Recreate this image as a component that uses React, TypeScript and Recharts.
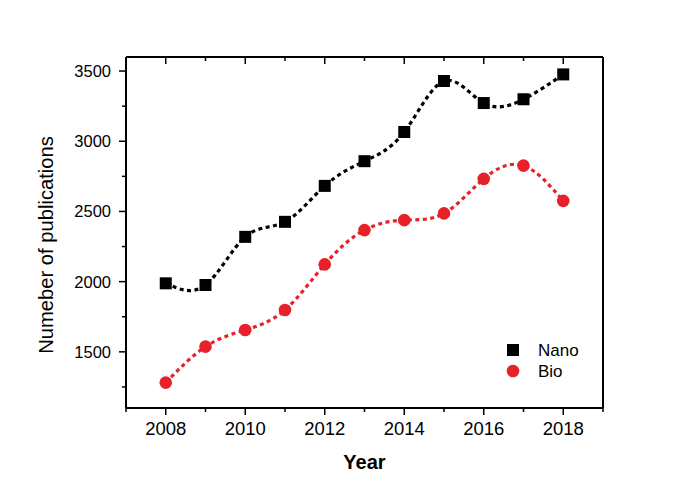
import React from 'react';
import { ComposedChart, Line, XAxis, YAxis, Legend } from 'recharts';

const years = [2008, 2009, 2010, 2011, 2012, 2013, 2014, 2015, 2016, 2017, 2018];
const nano = [1988, 1976, 2319, 2426, 2682, 2858, 3066, 3429, 3272, 3299, 3476];
const bio = [1281, 1537, 1656, 1798, 2123, 2367, 2438, 2486, 2732, 2826, 2575];
const xTicks = [2007, 2008, 2009, 2010, 2011, 2012, 2013, 2014, 2015, 2016, 2017, 2018, 2019];
const xLabelTicks = [2008, 2010, 2012, 2014, 2016, 2018];
const yTicks = [1250, 1500, 1750, 2000, 2250, 2500, 2750, 3000, 3250, 3500];
const yLabelTicks = [1500, 2000, 2500, 3000, 3500];

const data = years.map((y, i) => ({ year: y, nano: nano[i], bio: bio[i] }));

const FONT = '"Liberation Sans", Arial, sans-serif';
const RED = '#e62129';

const BottomTick = (props: any) => {
  const { x, y, payload } = props;
  const major = xLabelTicks.includes(payload.value);
  return (
    <g>
      <line x1={x} x2={x} y1={y} y2={y + (major ? 7 : 4)} stroke="#000" strokeWidth={1.5} />
      {major && (
        <text x={x} y={y + 27} textAnchor="middle" fontFamily={FONT} fontSize={18.5} fill="#000">
          {payload.value}
        </text>
      )}
    </g>
  );
};

const TopTick = (props: any) => {
  const { x, y, payload } = props;
  const major = xLabelTicks.includes(payload.value);
  return <line x1={x} x2={x} y1={y} y2={y + (major ? 7 : 4)} stroke="#000" strokeWidth={1.5} />;
};

const LeftTick = (props: any) => {
  const { x, y, payload } = props;
  const major = yLabelTicks.includes(payload.value);
  return (
    <g>
      <line x1={x} x2={x - (major ? 7 : 4)} y1={y} y2={y} stroke="#000" strokeWidth={1.5} />
      {major && (
        <text x={x - 15} y={y + 6} textAnchor="end" fontFamily={FONT} fontSize={16.5} fill="#000">
          {payload.value}
        </text>
      )}
    </g>
  );
};

const RightTick = (props: any) => {
  const { x, y, payload } = props;
  const major = yLabelTicks.includes(payload.value);
  return <line x1={x} x2={x - (major ? 7 : 4)} y1={y} y2={y} stroke="#000" strokeWidth={1.5} />;
};

const SquareDot = (props: any) => {
  const { cx, cy } = props;
  if (cx == null || cy == null) return null;
  return <rect x={cx - 6} y={cy - 6} width={12} height={12} fill="#000" />;
};

const CircleDot = (props: any) => {
  const { cx, cy } = props;
  if (cx == null || cy == null) return null;
  return <circle cx={cx} cy={cy} r={6.3} fill={RED} />;
};

const XLabel = (props: any) => {
  const { viewBox } = props;
  const { x, y, width } = viewBox;
  return (
    <text x={x + width / 2} y={y + 61} textAnchor="middle" fontFamily={FONT} fontSize={20} fontWeight="bold" fill="#000">
      Year
    </text>
  );
};

const YLabel = (props: any) => {
  const { viewBox } = props;
  const { x, y, height } = viewBox;
  const cx = x - 72;
  const cy = y + height / 2 + 12.5;
  return (
    <text x={cx} y={cy} transform={`rotate(-90, ${cx}, ${cy})`} textAnchor="middle" fontFamily={FONT} fontSize={20.2} fill="#000">
      Numeber of publications
    </text>
  );
};

const LegendContent = () => (
  <svg width={100} height={45}>
    <rect x={2} y={4} width={12} height={12} fill="#000" />
    <text x={33} y={16} fontFamily={FONT} fontSize={17} fill="#000">Nano</text>
    <circle cx={8} cy={31} r={6.3} fill={RED} />
    <text x={33} y={37} fontFamily={FONT} fontSize={17} fill="#000">Bio</text>
  </svg>
);

export default function App() {
  return (
    <div style={{ position: 'absolute', left: 0, top: 0, background: '#fff' }}>
      <ComposedChart width={700} height={489} data={data} margin={{ top: 56, right: 96, bottom: 80, left: 125 }}>
        <XAxis
          xAxisId="b"
          dataKey="year"
          type="number"
          domain={[2007, 2019]}
          ticks={xTicks}
          interval={0}
          height={1}
          tickSize={0}
          tickMargin={0}
          tickLine={false}
          tick={<BottomTick />}
          axisLine={{ stroke: '#000', strokeWidth: 2 }}
          label={<XLabel />}
        />
        <XAxis
          xAxisId="t"
          orientation="top"
          dataKey="year"
          type="number"
          domain={[2007, 2019]}
          ticks={xTicks}
          interval={0}
          height={1}
          tickSize={0}
          tickMargin={0}
          tickLine={false}
          tick={<TopTick />}
          axisLine={{ stroke: '#000', strokeWidth: 2 }}
        />
        <YAxis
          yAxisId="l"
          type="number"
          domain={[1100, 3600]}
          ticks={yTicks}
          interval={0}
          width={1}
          tickSize={0}
          tickMargin={0}
          tickLine={false}
          tick={<LeftTick />}
          axisLine={{ stroke: '#000', strokeWidth: 2 }}
          label={<YLabel />}
        />
        <YAxis
          yAxisId="r"
          orientation="right"
          type="number"
          domain={[1100, 3600]}
          ticks={yTicks}
          interval={0}
          width={1}
          tickSize={0}
          tickMargin={0}
          tickLine={false}
          tick={<RightTick />}
          axisLine={{ stroke: '#000', strokeWidth: 2 }}
        />
        <Legend
          layout="vertical"
          align="center"
          verticalAlign="middle"
          content={<LegendContent />}
          wrapperStyle={{ position: 'absolute', left: 505, top: 340, width: 100, height: 45 }}
        />
        <Line
          xAxisId="b"
          yAxisId="l"
          type="natural"
          dataKey="nano"
          name="Nano"
          stroke="#000"
          strokeWidth={3.2}
          strokeDasharray="4 3.5"
          dot={<SquareDot />}
          activeDot={false}
          isAnimationActive={false}
        />
        <Line
          xAxisId="b"
          yAxisId="l"
          type="natural"
          dataKey="bio"
          name="Bio"
          stroke={RED}
          strokeWidth={3.2}
          strokeDasharray="4 3.5"
          dot={<CircleDot />}
          activeDot={false}
          isAnimationActive={false}
        />
      </ComposedChart>
    </div>
  );
}
